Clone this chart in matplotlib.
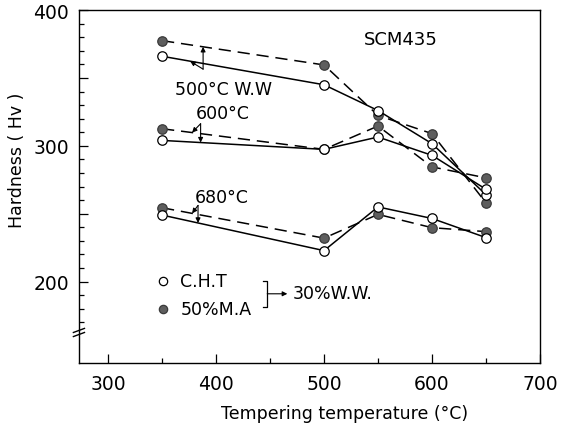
import numpy as np
import matplotlib
matplotlib.use('Agg')
import matplotlib.pyplot as plt

# tempering temperatures (°C)
temps = [350, 500, 550, 600, 650]

# hardness (Hv): open = C.H.T, filled = 50% M.A
ww500_cht = [366, 345, 326, 301.6, 264]
ww500_ma = [377.5, 359.6, 322.4, 309, 258]
t600_cht = [304, 297.4, 306.5, 293, 268]
t600_ma = [312.6, 297.4, 314.6, 284.5, 276.4]
t680_cht = [249, 222.8, 255, 246.5, 232.4]
t680_ma = [254.4, 232, 249.5, 239.7, 236.8]

plt.rcParams['font.family'] = 'DejaVu Sans'
plt.rcParams['font.size'] = 12.5

fig = plt.figure(figsize=(5.72, 4.27), dpi=100)
ax = fig.add_axes([0.138, 0.1475, 0.806, 0.8265])

dash = (0, (8, 4.5))
fill_col = '#5e5e5e'
for cht, ma in [(ww500_cht, ww500_ma), (t600_cht, t600_ma), (t680_cht, t680_ma)]:
    ax.plot(temps, ma, ls=dash, color='k', lw=1.1, marker='o', ms=6.8,
            mfc=fill_col, mec='#3a3a3a', mew=0.9, zorder=2)
    ax.plot(temps, cht, ls='-', color='k', lw=1.1, marker='o', ms=6.8,
            mfc='white', mec='k', mew=0.9, zorder=3)

ax.set_xlim(273, 700)
ax.set_ylim(140, 400)

ax.set_xticks([300, 400, 500, 600, 700])
ax.set_xticks([350, 450, 550, 650], minor=True)
ax.set_yticks([200, 250, 300, 350, 400])
ax.set_yticklabels(['200', '', '300', '', '400'])
ax.set_yticks([v for v in range(170, 400, 10) if v % 50], minor=True)
ax.tick_params(which='both', direction='in', top=False, right=False, width=0.9)
ax.tick_params(which='major', length=6.5, labelsize=13.5)
ax.tick_params(which='minor', length=3.5)
ax.tick_params(axis='x', which='major', pad=8)
ax.tick_params(axis='y', which='major', pad=7)
for s in ax.spines.values():
    s.set_linewidth(1.0)

# axis break on the left spine
tr = ax.get_yaxis_transform()
for y0 in (159.5, 162.5):
    ax.plot([-0.012, 0.012], [y0, y0 + 3], color='k', lw=1.0, transform=tr, clip_on=False)

ax.set_xlabel('Tempering temperature (°C)')
ax.set_ylabel('Hardness ( Hv )')
ax.xaxis.set_label_coords(0.577, -0.115)
ax.yaxis.set_label_coords(-0.115, 0.578)

ax.text(571, 379, 'SCM435', ha='center', va='center', fontsize=13)
ax.text(406.5, 342, '500°C W.W', ha='center', va='center')
ax.text(406, 324.4, '600°C', ha='center', va='center')
ax.text(405, 262.3, '680°C', ha='center', va='center')

arrow = dict(arrowstyle='-|>', lw=0.8, color='k', mutation_scale=7, shrinkA=0, shrinkB=0)


def leader(vertex, x_up, x_low, upper, lower):
    y_up = np.interp(x_up, temps, upper)
    y_low = np.interp(x_low, temps, lower)
    ax.annotate('', xy=(x_up, y_up), xytext=vertex, arrowprops=arrow)
    ax.annotate('', xy=(x_low, y_low), xytext=vertex, arrowprops=arrow)


leader((388, 356.5), 388, 376, ww500_ma, ww500_cht)
leader((385.7, 316.3), 377.8, 385.7, t600_ma, t600_cht)
leader((383.3, 256.1), 377.8, 383.3, t680_ma, t680_cht)

# legend drawn by hand
ax.plot([351], [200.5], 'o', ms=6, mfc='white', mec='k', mew=0.9)
ax.plot([351], [179.5], 'o', ms=6, mfc=fill_col, mec='#3a3a3a', mew=0.9)
ax.text(367, 200.5, 'C.H.T', va='center')
ax.text(367, 179.5, '50%M.A', va='center')
ax.plot([443.7, 447.4, 447.4, 443.7], [200.5, 200.5, 181, 181], color='k', lw=0.9)
ax.annotate('', xy=(466, 191), xytext=(447.4, 191), arrowprops=arrow)
ax.text(471, 191.5, '30%W.W.', va='center')

fig.savefig('out.png', dpi=100)
